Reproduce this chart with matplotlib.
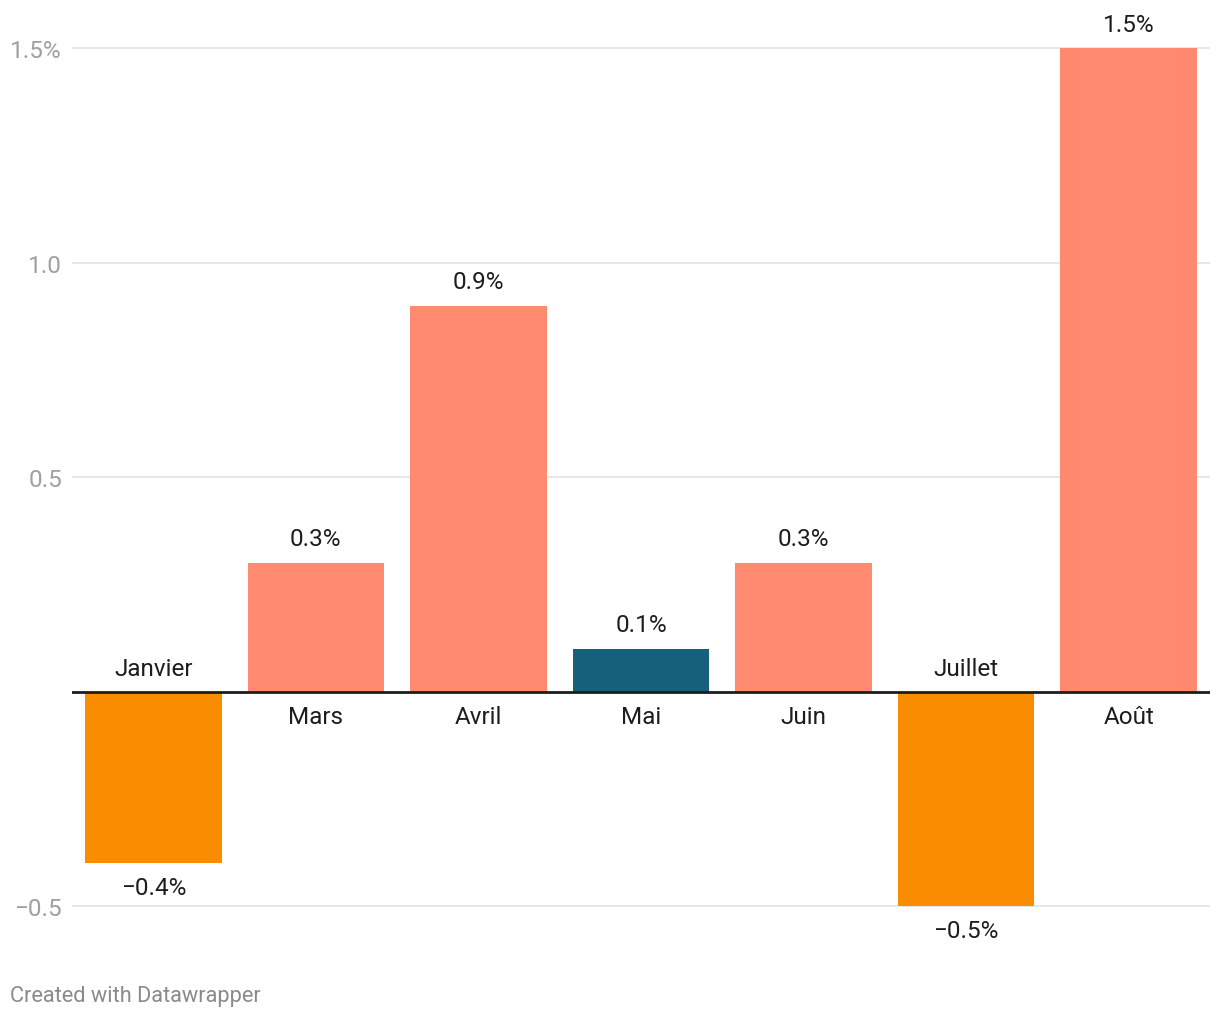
import matplotlib
matplotlib.use("Agg")
import matplotlib.pyplot as plt
from matplotlib.transforms import offset_copy

plt.rcParams['font.family'] = ['Roboto', 'DejaVu Sans']

categories = ["Janvier", "Mars", "Avril", "Mai", "Juin", "Juillet", "Août"]
values = [-0.4, 0.3, 0.9, 0.1, 0.3, -0.5, 1.5]
colors = ["#f98c00", "#ff8a70", "#ff8a70", "#16607a", "#ff8a70", "#f98c00", "#ff8a70"]
yticks = [-0.5, 0.5, 1.0, 1.5]
ytick_labels = ["\u22120.5", "0.5", "1.0", "1.5%"]
value_labels = ["\u22120.4%", "0.3%", "0.9%", "0.1%", "0.3%", "\u22120.5%", "1.5%"]

W, H = 1220, 1020
fig = plt.figure(figsize=(W / 100, H / 100), dpi=100)

# pixel geometry
left_px, right_px = 72, 1210
zero_px = 692.5
unit_px = 428.67
top_px, bot_px = 11.5, 961.5
ymax = (zero_px - top_px) / unit_px
ymin = (zero_px - bot_px) / unit_px

FS = 17.5

ax = fig.add_axes([left_px / W, 1 - bot_px / H, (right_px - left_px) / W, (bot_px - top_px) / H])
ax.set_xlim(-0.5, len(categories) - 0.5)
ax.set_ylim(ymin, ymax)

for y in yticks:
    ax.axhline(y, color="#e3e3e3", lw=1.2, zorder=0)

x = list(range(len(categories)))
ax.bar(x, values, width=0.84, color=colors, zorder=2)
ax.axhline(0, color="#1d1d1d", lw=2, zorder=3)

for s in ax.spines.values():
    s.set_visible(False)
ax.set_xticks([])
ax.set_yticks(yticks)
ax.set_yticklabels(ytick_labels)
ax.tick_params(axis='y', length=0, pad=7.2, labelsize=FS, labelcolor="#a0a0a0")

for i, (v, lab, cat) in enumerate(zip(values, value_labels, categories)):
    if v >= 0:
        t = offset_copy(ax.transData, fig=fig, x=0, y=24, units='dots')
        ax.text(i, v, lab, transform=t, ha='center', va='center', fontsize=FS, color="#1d1d1d")
        t2 = offset_copy(ax.transData, fig=fig, x=0, y=-25, units='dots')
        ax.text(i, 0, cat, transform=t2, ha='center', va='center', fontsize=FS, color="#1d1d1d")
    else:
        t = offset_copy(ax.transData, fig=fig, x=0, y=-25, units='dots')
        ax.text(i, v, lab, transform=t, ha='center', va='center', fontsize=FS, color="#1d1d1d")
        t2 = offset_copy(ax.transData, fig=fig, x=0, y=23, units='dots')
        ax.text(i, 0, cat, transform=t2, ha='center', va='center', fontsize=FS, color="#1d1d1d")

fig.text(10 / W, 1 - 997 / H, "Created with Datawrapper", ha='left', va='center',
         fontsize=15.7, color="#8a8a8a")

fig.savefig("out.png", dpi=100, facecolor="white")
